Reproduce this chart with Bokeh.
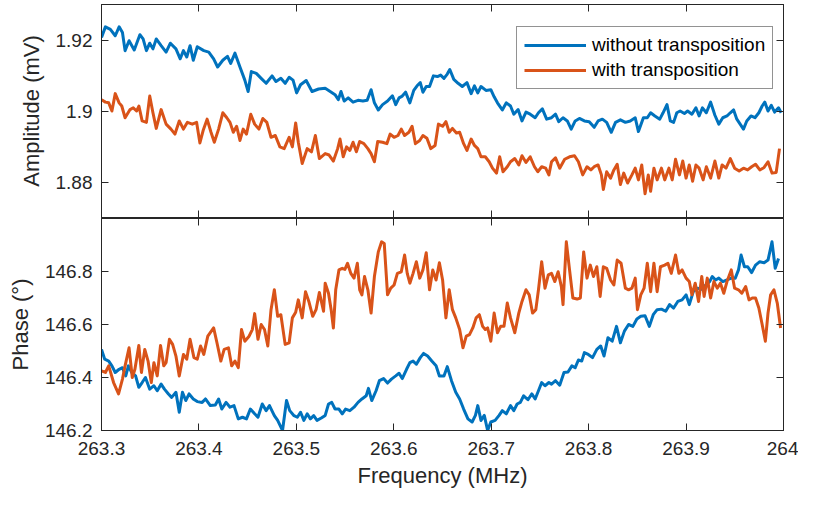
from bokeh.plotting import figure
from bokeh.models import (Range1d, LinearAxis, FixedTicker, Legend, LegendItem,
                          PrintfTickFormatter, CustomLabelingPolicy)
from bokeh.layouts import column
from bokeh.embed import file_html
from bokeh.resources import INLINE

# ---------------- data ----------------
series_names = ["without transposition", "with transposition"]

freq_ticks = [263.3, 263.4, 263.5, 263.6, 263.7, 263.8, 263.9, 264.0]
freq_tick_labels = ["263.3", "263.4", "263.5", "263.6", "263.7", "263.8", "263.9", "264"]
amp_ticks = [1.88, 1.9, 1.92]
amp_tick_labels = ["1.88", "1.9", "1.92"]
phase_ticks = [146.2, 146.4, 146.6, 146.8]
phase_tick_labels = ["146.2", "146.4", "146.6", "146.8"]

# Amplitude (mV), without transposition
amp_freq_without = [
    263.3000, 263.3040, 263.3091, 263.3141, 263.3181, 263.3215, 263.3242, 263.3283, 263.3336, 263.3394,
    263.3427, 263.3461, 263.3495, 263.3528, 263.3562, 263.3612, 263.3663, 263.3707, 263.3764, 263.3808,
    263.3841, 263.3875, 263.3909, 263.3942, 263.3983, 263.4050, 263.4101, 263.4151, 263.4192, 263.4245,
    263.4293, 263.4326, 263.4370, 263.4421, 263.4471, 263.4505, 263.4538, 263.4589, 263.4639, 263.4690,
    263.4751, 263.4791, 263.4841, 263.4885, 263.4926, 263.4966, 263.5003, 263.5043, 263.5101, 263.5161,
    263.5228,
    263.5296, 263.5347, 263.5397, 263.5431, 263.5458, 263.5491, 263.5532, 263.5582, 263.5633, 263.5683,
    263.5727, 263.5767, 263.5801, 263.5841, 263.5885, 263.5936, 263.5986, 263.6020, 263.6054, 263.6087,
    263.6121, 263.6165, 263.6205, 263.6239, 263.6272, 263.6299, 263.6333, 263.6367, 263.6407, 263.6448,
    263.6481, 263.6515, 263.6549, 263.6575, 263.6616, 263.6660, 263.6703, 263.6751, 263.6794, 263.6828,
    263.6862, 263.6895, 263.6946, 263.6996, 263.7030, 263.7064, 263.7114, 263.7155, 263.7198, 263.7232,
    263.7276, 263.7316, 263.7357, 263.7400, 263.7451, 263.7485, 263.7525, 263.7569,
    263.7619, 263.7660, 263.7693, 263.7737, 263.7781, 263.7821, 263.7862, 263.7905, 263.7956, 263.8006,
    263.8057, 263.8097, 263.8141, 263.8185, 263.8232, 263.8276, 263.8326, 263.8377, 263.8427, 263.8478,
    263.8511, 263.8562, 263.8602, 263.8636, 263.8680, 263.8730, 263.8764, 263.8804, 263.8838, 263.8872,
    263.8905, 263.8939, 263.8983, 263.9016, 263.9060, 263.9101, 263.9134, 263.9168, 263.9208, 263.9252,
    263.9296, 263.9336, 263.9377, 263.9420, 263.9454, 263.9488, 263.9521, 263.9555, 263.9589, 263.9623,
    263.9666, 263.9707, 263.9747, 263.9781, 263.9808, 263.9841, 263.9875, 263.9909, 263.9949, 263.9976,
]
amp_without = [
    1.9207, 1.9237, 1.9230, 1.9212, 1.9237, 1.9221, 1.9170, 1.9198, 1.9172, 1.9215,
    1.9203, 1.9170, 1.9191, 1.9175, 1.9203, 1.9184, 1.9166, 1.9191, 1.9175, 1.9147,
    1.9170, 1.9152, 1.9184, 1.9143, 1.9181, 1.9170, 1.9166, 1.9147, 1.9124, 1.9143,
    1.9154, 1.9134, 1.9163, 1.9124, 1.9087, 1.9055, 1.9111, 1.9106, 1.9092, 1.9078,
    1.9099, 1.9083, 1.9092, 1.9078, 1.9095, 1.9087, 1.9051, 1.9074, 1.9086, 1.9055,
    1.9062,
    1.9064, 1.9055, 1.9046, 1.9032, 1.9055, 1.9028, 1.9037, 1.9025, 1.9030, 1.9028,
    1.9030, 1.9060, 1.9023, 1.9003, 1.9018, 1.9028, 1.9043, 1.9018, 1.9037, 1.9042,
    1.9053, 1.9023, 1.9058, 1.9071, 1.9080, 1.9053, 1.9069, 1.9069, 1.9099, 1.9097,
    1.9101, 1.9092, 1.9104, 1.9117, 1.9089, 1.9078, 1.9069, 1.9080, 1.9049, 1.9071,
    1.9051, 1.9069, 1.9058, 1.9060, 1.9040, 1.9023, 1.9003, 1.9023, 1.9014, 1.8991,
    1.9004, 1.8972, 1.8997, 1.8991, 1.8981, 1.8995, 1.9006, 1.8977,
    1.8981, 1.8991, 1.8970, 1.8981, 1.8972, 1.8949, 1.8972, 1.8979, 1.8972, 1.8970,
    1.8954, 1.8972, 1.8977, 1.8968, 1.8940, 1.8968, 1.8975, 1.8968, 1.8972, 1.8981,
    1.8942, 1.8981, 1.8981, 1.8995, 1.8986, 1.8977, 1.8995, 1.9018, 1.8972, 1.8968,
    1.8995, 1.9000, 1.8993, 1.9000, 1.8991, 1.9009, 1.8986, 1.9009, 1.8995, 1.9025,
    1.8988, 1.8963, 1.8981, 1.8986, 1.8995, 1.9003, 1.8977, 1.8963, 1.8949, 1.8972,
    1.8986, 1.8981, 1.8995, 1.9014, 1.9025, 1.9000, 1.9016, 1.8997, 1.9009, 1.8995,
]

# Amplitude (mV), with transposition
amp_freq_with = [
    263.3000, 263.3040, 263.3074, 263.3107, 263.3141, 263.3181, 263.3208, 263.3242, 263.3293, 263.3326,
    263.3360, 263.3384, 263.3417, 263.3461, 263.3495, 263.3528, 263.3562, 263.3612, 263.3663, 263.3713,
    263.3754, 263.3798, 263.3841, 263.3882, 263.3932, 263.3976, 263.4010, 263.4043, 263.4084, 263.4124,
    263.4158, 263.4202, 263.4245, 263.4286, 263.4319, 263.4353, 263.4387, 263.4421, 263.4454, 263.4488,
    263.4532, 263.4572, 263.4616, 263.4656, 263.4697, 263.4740, 263.4784, 263.4831, 263.4875, 263.4926,
    263.4959, 263.4993, 263.5020, 263.5060, 263.5111, 263.5155, 263.5195, 263.5236,
    263.5296, 263.5336, 263.5380, 263.5424, 263.5448, 263.5481, 263.5515, 263.5549, 263.5582, 263.5616,
    263.5650, 263.5693, 263.5734, 263.5767, 263.5801, 263.5835, 263.5885, 263.5929, 263.5963, 263.6003,
    263.6043, 263.6077, 263.6111, 263.6155, 263.6188, 263.6222, 263.6266, 263.6299, 263.6340, 263.6380,
    263.6424, 263.6458, 263.6501, 263.6535, 263.6569, 263.6602, 263.6643, 263.6676, 263.6717, 263.6751,
    263.6794, 263.6828, 263.6862, 263.6895, 263.6939, 263.6979, 263.7013, 263.7054, 263.7087, 263.7121,
    263.7165, 263.7198, 263.7242, 263.7283, 263.7316, 263.7357, 263.7400, 263.7444, 263.7478, 263.7518,
    263.7559, 263.7592,
    263.7619, 263.7660, 263.7703, 263.7754, 263.7804, 263.7855, 263.7895, 263.7939, 263.7983, 263.8023,
    263.8057, 263.8097, 263.8131, 263.8151, 263.8185, 263.8225, 263.8259, 263.8293, 263.8326, 263.8360,
    263.8400, 263.8444, 263.8478, 263.8511, 263.8545, 263.8579, 263.8612, 263.8636, 263.8670, 263.8703,
    263.8747, 263.8781, 263.8824, 263.8858, 263.8892, 263.8932, 263.8966, 263.9000, 263.9033, 263.9067,
    263.9101, 263.9134, 263.9175, 263.9208, 263.9252, 263.9296, 263.9336, 263.9370, 263.9410, 263.9454,
    263.9498, 263.9545, 263.9589, 263.9632, 263.9673, 263.9713, 263.9757, 263.9801, 263.9841, 263.9882,
    263.9925, 263.9959,
]
amp_with = [
    1.9032, 1.9025, 1.9023, 1.9000, 1.9049, 1.9023, 1.9014, 1.8981, 1.9004, 1.9009,
    1.9000, 1.9014, 1.8972, 1.8968, 1.9042, 1.8995, 1.8951, 1.9004, 1.8963, 1.8949,
    1.8935, 1.8972, 1.8949, 1.8968, 1.8963, 1.8968, 1.8910, 1.8945, 1.8977, 1.8940,
    1.8912, 1.8949, 1.8995, 1.8981, 1.8968, 1.8940, 1.8957, 1.8917, 1.8949, 1.8935,
    1.8991, 1.8963, 1.8949, 1.8979, 1.8968, 1.8926, 1.8931, 1.8899, 1.8894, 1.8926,
    1.8899, 1.8966, 1.8912, 1.8852, 1.8894, 1.8885, 1.8931, 1.8866,
    1.8880, 1.8876, 1.8859, 1.8894, 1.8921, 1.8871, 1.8899, 1.8889, 1.8912, 1.8885,
    1.8914, 1.8908, 1.8894, 1.8880, 1.8857, 1.8914, 1.8912, 1.8908, 1.8935, 1.8926,
    1.8931, 1.8949, 1.8931, 1.8940, 1.8957, 1.8908, 1.8917, 1.8931, 1.8923, 1.8894,
    1.8903, 1.8963, 1.8957, 1.8970, 1.8940, 1.8951, 1.8938, 1.8940, 1.8908, 1.8889,
    1.8921, 1.8903, 1.8894, 1.8871, 1.8871, 1.8857, 1.8839, 1.8825, 1.8871, 1.8829,
    1.8843, 1.8857, 1.8866, 1.8848, 1.8874, 1.8855, 1.8871, 1.8843, 1.8829, 1.8843,
    1.8839, 1.8820,
    1.8857, 1.8868, 1.8839, 1.8864, 1.8871, 1.8874, 1.8857, 1.8820, 1.8843, 1.8834,
    1.8843, 1.8848, 1.8820, 1.8779, 1.8829, 1.8811, 1.8834, 1.8850, 1.8793, 1.8825,
    1.8797, 1.8820, 1.8839, 1.8806, 1.8848, 1.8767, 1.8820, 1.8774, 1.8839, 1.8806,
    1.8839, 1.8806, 1.8839, 1.8806, 1.8864, 1.8820, 1.8859, 1.8811, 1.8848, 1.8802,
    1.8848, 1.8839, 1.8806, 1.8843, 1.8811, 1.8859, 1.8811, 1.8848, 1.8839, 1.8866,
    1.8839, 1.8831, 1.8839, 1.8834, 1.8843, 1.8850, 1.8834, 1.8841, 1.8857, 1.8825,
    1.8827, 1.8894,
]

# Phase (deg), without transposition
phase_freq_without = [
    263.3000, 263.3033, 263.3074, 263.3107, 263.3141, 263.3181, 263.3215, 263.3249, 263.3276, 263.3309,
    263.3350, 263.3383, 263.3417, 263.3451, 263.3495, 263.3538, 263.3572, 263.3612, 263.3646, 263.3687,
    263.3720, 263.3764, 263.3798, 263.3831, 263.3865, 263.3899, 263.3942, 263.3983, 263.4033, 263.4067,
    263.4117, 263.4168, 263.4202, 263.4235, 263.4279, 263.4319, 263.4360, 263.4404, 263.4447, 263.4488,
    263.4528, 263.4572, 263.4606, 263.4650, 263.4690, 263.4724, 263.4774, 263.4808, 263.4858, 263.4899,
    263.4932, 263.4976, 263.5010, 263.5043, 263.5077, 263.5111, 263.5144, 263.5178, 263.5212, 263.5256,
    263.5296, 263.5330, 263.5363, 263.5397, 263.5437, 263.5471, 263.5505, 263.5549, 263.5592, 263.5633,
    263.5673, 263.5717, 263.5740, 263.5774, 263.5818, 263.5852, 263.5895, 263.5936, 263.5976, 263.6020,
    263.6054, 263.6087, 263.6131, 263.6165, 263.6198, 263.6232, 263.6272, 263.6306, 263.6347, 263.6390,
    263.6434, 263.6468, 263.6515, 263.6549, 263.6592, 263.6636, 263.6676, 263.6717, 263.6761, 263.6804,
    263.6838, 263.6862, 263.6895, 263.6929, 263.6963, 263.6996, 263.7040, 263.7081, 263.7114, 263.7155,
    263.7198, 263.7232, 263.7266, 263.7299, 263.7333, 263.7377, 263.7417, 263.7451, 263.7485, 263.7518,
    263.7552, 263.7592,
    263.7619, 263.7660, 263.7703, 263.7747, 263.7788, 263.7828, 263.7862, 263.7895, 263.7929, 263.7956,
    263.7996, 263.8040, 263.8084, 263.8124, 263.8158, 263.8198, 263.8242, 263.8286, 263.8326, 263.8367,
    263.8410, 263.8454, 263.8495, 263.8535, 263.8579, 263.8623, 263.8663, 263.8703, 263.8747, 263.8791,
    263.8831, 263.8872, 263.8915, 263.8959, 263.9000, 263.9033, 263.9074, 263.9117, 263.9161, 263.9202,
    263.9242, 263.9269, 263.9303, 263.9336, 263.9377, 263.9420, 263.9464, 263.9505, 263.9538, 263.9565,
    263.9599, 263.9633, 263.9673, 263.9713, 263.9757, 263.9801, 263.9841, 263.9882, 263.9915, 263.9949,
]
phase_without = [
    146.506, 146.469, 146.462, 146.444, 146.419, 146.431, 146.437, 146.406, 146.444, 146.419,
    146.406, 146.363, 146.381, 146.400, 146.356, 146.369, 146.350, 146.375, 146.356, 146.338,
    146.325, 146.344, 146.269, 146.344, 146.313, 146.338, 146.319, 146.309, 146.306, 146.319,
    146.294, 146.296, 146.319, 146.281, 146.306, 146.288, 146.294, 146.244, 146.250, 146.244,
    146.281, 146.263, 146.250, 146.300, 146.275, 146.294, 146.256, 146.238, 146.200, 146.313,
    146.275, 146.256, 146.250, 146.269, 146.238, 146.263, 146.244, 146.256, 146.238, 146.247,
    146.257, 146.300, 146.306, 146.281, 146.281, 146.263, 146.281, 146.275, 146.288, 146.306,
    146.319, 146.331, 146.359, 146.313, 146.350, 146.388, 146.396, 146.379, 146.394, 146.406,
    146.416, 146.396, 146.431, 146.456, 146.462, 146.450, 146.475, 146.491, 146.481, 146.462,
    146.444, 146.406, 146.406, 146.441, 146.388, 146.344, 146.319, 146.281, 146.244, 146.232,
    146.257, 146.294, 146.238, 146.257, 146.200, 146.232, 146.238, 146.257, 146.275, 146.263,
    146.294, 146.275, 146.300, 146.306, 146.331, 146.316, 146.338, 146.319, 146.350, 146.381,
    146.369, 146.381,
    146.375, 146.388, 146.371, 146.419, 146.421, 146.444, 146.437, 146.466, 146.462, 146.494,
    146.487, 146.475, 146.506, 146.519, 146.481, 146.550, 146.537, 146.593, 146.531, 146.575,
    146.600, 146.593, 146.621, 146.631, 146.633, 146.593, 146.637, 146.656, 146.658, 146.650,
    146.675, 146.662, 146.687, 146.693, 146.712, 146.675, 146.724, 146.737, 146.733, 146.749,
    146.762, 146.781, 146.768, 146.775, 146.762, 146.768, 146.775, 146.775, 146.806, 146.862,
    146.818, 146.818, 146.796, 146.824, 146.837, 146.833, 146.843, 146.912, 146.812, 146.849,
]

# Phase (deg), with transposition
phase_freq_with = [
    263.3000, 263.3040, 263.3074, 263.3124, 263.3175, 263.3215, 263.3242, 263.3283, 263.3316, 263.3343,
    263.3383, 263.3410, 263.3444, 263.3478, 263.3511, 263.3538, 263.3572, 263.3606, 263.3639, 263.3663,
    263.3697, 263.3730, 263.3764, 263.3798, 263.3841, 263.3875, 263.3909, 263.3949, 263.3983, 263.4017,
    263.4050, 263.4091, 263.4151, 263.4185, 263.4225, 263.4259, 263.4303, 263.4336, 263.4370, 263.4404,
    263.4437, 263.4471, 263.4515, 263.4548, 263.4572, 263.4606, 263.4639, 263.4673, 263.4707, 263.4740,
    263.4774, 263.4808, 263.4841, 263.4885, 263.4926, 263.4959, 263.4993, 263.5020, 263.5060, 263.5094,
    263.5128, 263.5168, 263.5202, 263.5236, 263.5279,
    263.5296, 263.5330, 263.5357, 263.5380, 263.5404, 263.5437, 263.5471, 263.5498, 263.5525, 263.5559,
    263.5592, 263.5626, 263.5650, 263.5673, 263.5700, 263.5734, 263.5767, 263.5801, 263.5841, 263.5875,
    263.5902, 263.5936, 263.5969, 263.6003, 263.6037, 263.6077, 263.6111, 263.6138, 263.6165, 263.6198,
    263.6232, 263.6266, 263.6299, 263.6333, 263.6367, 263.6400, 263.6434, 263.6468, 263.6501, 263.6535,
    263.6569, 263.6602, 263.6636, 263.6676, 263.6710, 263.6744, 263.6777, 263.6811, 263.6845, 263.6878,
    263.6912, 263.6939, 263.6963, 263.6996, 263.7030, 263.7064, 263.7097, 263.7131, 263.7165, 263.7198,
    263.7242, 263.7283, 263.7316, 263.7357, 263.7390, 263.7424, 263.7458, 263.7485, 263.7518, 263.7552,
    263.7586,
    263.7619, 263.7653, 263.7687, 263.7720, 263.7737, 263.7771, 263.7804, 263.7838, 263.7882, 263.7915,
    263.7949, 263.7983, 263.8017, 263.8050, 263.8084, 263.8118, 263.8151, 263.8185, 263.8225, 263.8259,
    263.8293, 263.8333, 263.8377, 263.8410, 263.8444, 263.8478, 263.8501, 263.8535, 263.8569, 263.8602,
    263.8636, 263.8670, 263.8703, 263.8737, 263.8781, 263.8814, 263.8848, 263.8892, 263.8926, 263.8959,
    263.9000, 263.9033, 263.9060, 263.9094, 263.9128, 263.9161, 263.9185, 263.9218, 263.9252, 263.9286,
    263.9320, 263.9353, 263.9387, 263.9420, 263.9464, 263.9498, 263.9538, 263.9572, 263.9612, 263.9646,
    263.9680, 263.9713, 263.9747, 263.9781, 263.9814, 263.9841, 263.9868, 263.9902, 263.9936, 263.9970,
]
phase_with = [
    146.425, 146.419, 146.444, 146.381, 146.338, 146.394, 146.444, 146.512, 146.400, 146.431,
    146.521, 146.419, 146.506, 146.462, 146.381, 146.456, 146.406, 146.521, 146.444, 146.456,
    146.544, 146.525, 146.481, 146.406, 146.487, 146.469, 146.544, 146.475, 146.469, 146.519,
    146.487, 146.556, 146.587, 146.531, 146.462, 146.506, 146.512, 146.444, 146.462, 146.437,
    146.581, 146.537, 146.556, 146.581, 146.641, 146.544, 146.600, 146.581, 146.519, 146.656,
    146.731, 146.631, 146.637, 146.525, 146.531, 146.625, 146.646, 146.693, 146.625, 146.724,
    146.687, 146.631, 146.656, 146.721, 146.650,
    146.756, 146.718, 146.656, 146.587, 146.731, 146.806, 146.812, 146.808, 146.831, 146.793,
    146.775, 146.831, 146.731, 146.712, 146.781, 146.731, 146.643, 146.781, 146.874, 146.912,
    146.906, 146.712, 146.737, 146.749, 146.793, 146.799, 146.862, 146.793, 146.756, 146.793,
    146.837, 146.775, 146.806, 146.871, 146.731, 146.806, 146.768, 146.833, 146.768, 146.625,
    146.731, 146.656, 146.625, 146.581, 146.512, 146.556, 146.562, 146.587, 146.625, 146.637,
    146.593, 146.581, 146.587, 146.537, 146.643, 146.569, 146.593, 146.593, 146.681, 146.625,
    146.569, 146.643, 146.687, 146.731, 146.712, 146.643, 146.656, 146.731, 146.837, 146.737,
    146.787,
    146.793, 146.762, 146.799, 146.743, 146.675, 146.912, 146.806, 146.700, 146.696, 146.700,
    146.874, 146.775, 146.824, 146.781, 146.818, 146.706, 146.818, 146.812, 146.768, 146.749,
    146.843, 146.831, 146.737, 146.731, 146.737, 146.775, 146.656, 146.712, 146.737, 146.831,
    146.724, 146.831, 146.724, 146.818, 146.824, 146.831, 146.793, 146.862, 146.793, 146.806,
    146.775, 146.762, 146.712, 146.756, 146.687, 146.781, 146.706, 146.775, 146.700, 146.762,
    146.737, 146.756, 146.718, 146.762, 146.806, 146.737, 146.731, 146.718, 146.743, 146.693,
    146.700, 146.700, 146.662, 146.600, 146.537, 146.643, 146.712, 146.731, 146.681, 146.587,
]

# ---------------- style ----------------
BLUE = "#0072BD"
ORANGE = "#D95319"
INK = "#262626"
FONT = "Liberation Sans"

x_range = Range1d(263.3, 264.0)

NO_LABELS = "for (const i of Array.from(indices)) { indices.unset(i) }; return indices"


def style_axis(ax, ticks, labels, show_labels, standoff=6):
    ax.ticker = FixedTicker(ticks=ticks, minor_ticks=[])
    ax.formatter = PrintfTickFormatter(format="%g")
    ax.major_label_overrides = dict(zip(ticks, labels))
    ax.major_tick_in = 7
    ax.major_tick_out = 0
    ax.minor_tick_line_color = None
    ax.major_tick_line_color = INK
    ax.major_tick_line_width = 1
    ax.axis_line_color = INK
    ax.axis_line_width = 1
    ax.major_label_text_font = FONT
    ax.major_label_text_color = INK
    ax.axis_label_text_font = FONT
    ax.axis_label_text_color = INK
    ax.axis_label_text_font_style = "normal"
    ax.axis_label_text_font_size = "22px"
    if show_labels:
        ax.major_label_text_font_size = "19px"
        ax.major_label_standoff = standoff
    else:
        ax.major_label_text_font_size = "0px"
        ax.major_label_standoff = 0
        ax.major_label_policy = CustomLabelingPolicy(code=NO_LABELS)


def make_fig(height, y_range, top, bottom):
    p = figure(width=798, height=height, x_range=x_range, y_range=y_range,
               output_backend="svg", toolbar_location=None,
               min_border_left=101, min_border_right=15,
               min_border_top=top, min_border_bottom=bottom,
               background_fill_color="white", border_fill_color="white")
    p.xgrid.visible = False
    p.ygrid.visible = False
    p.outline_line_color = INK
    p.outline_line_width = 1
    p.outline_line_alpha = 1
    return p


# ---------------- top panel: amplitude ----------------
p1 = make_fig(218, Range1d(1.87, 1.93), 4, 1)
style_axis(p1.xaxis[0], freq_ticks, freq_tick_labels, False)
style_axis(p1.yaxis[0], amp_ticks, amp_tick_labels, True, standoff=9)
p1.yaxis[0].axis_label = "Amplitude (mV)"
p1.yaxis[0].axis_label_standoff = 9
ax = LinearAxis()
style_axis(ax, amp_ticks, amp_tick_labels, False)
p1.add_layout(ax, "right")
ax = LinearAxis()
style_axis(ax, freq_ticks, freq_tick_labels, False)
p1.add_layout(ax, "above")

r_amp_wo = p1.line(amp_freq_without, amp_without, line_color=BLUE, line_width=3, line_join="round")
r_amp_w = p1.line(amp_freq_with, amp_with, line_color=ORANGE, line_width=3, line_join="round")

legend = Legend(items=[LegendItem(label=series_names[0], renderers=[r_amp_wo]),
                       LegendItem(label=series_names[1], renderers=[r_amp_w])],
                location=(415, 128))
legend.border_line_color = INK
legend.border_line_width = 1
legend.background_fill_color = "white"
legend.background_fill_alpha = 1
legend.label_text_font = FONT
legend.label_text_font_size = "19px"
legend.label_text_color = "#000000"
legend.glyph_width = 62
legend.glyph_height = 20
legend.label_height = 20
legend.label_standoff = 6
legend.spacing = 3
legend.padding = 7
legend.margin = 0
p1.add_layout(legend)

# ---------------- bottom panel: phase ----------------
p2 = make_fig(272, Range1d(146.2, 147.0), 0, 58)
style_axis(p2.xaxis[0], freq_ticks, freq_tick_labels, True, standoff=11)
p2.xaxis[0].axis_label = "Frequency (MHz)"
p2.xaxis[0].axis_label_standoff = 5
style_axis(p2.yaxis[0], phase_ticks, phase_tick_labels, True, standoff=9)
p2.yaxis[0].axis_label = "Phase (°)"
p2.yaxis[0].axis_label_standoff = 9
ax = LinearAxis()
style_axis(ax, phase_ticks, phase_tick_labels, False)
p2.add_layout(ax, "right")
ax = LinearAxis()
style_axis(ax, freq_ticks, freq_tick_labels, False)
p2.add_layout(ax, "above")

p2.line(phase_freq_without, phase_without, line_color=BLUE, line_width=3, line_join="round")
p2.line(phase_freq_with, phase_with, line_color=ORANGE, line_width=3, line_join="round")

layout = column(p1, p2, spacing=0)
open("out.html", "w").write(file_html(layout, INLINE))
